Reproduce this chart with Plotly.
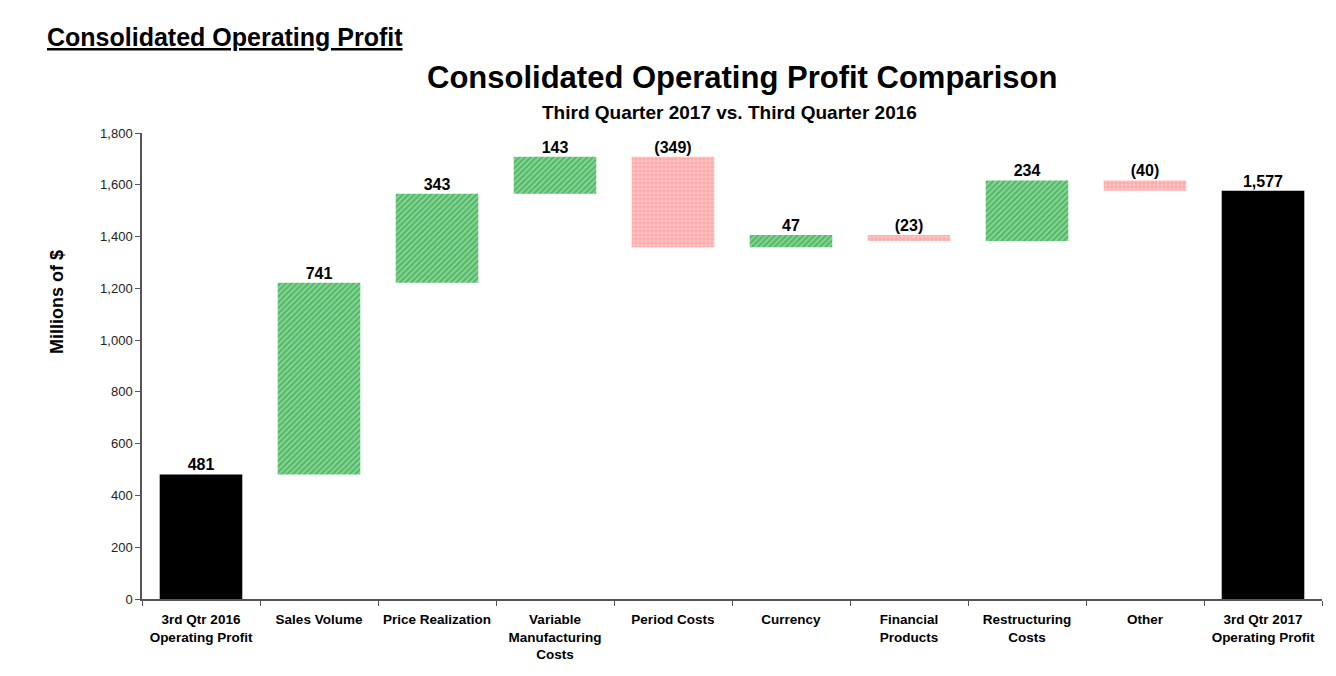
import plotly.graph_objects as go

categories = ["3rd Qtr 2016<br>Operating Profit", "Sales Volume", "Price Realization",
              "Variable<br>Manufacturing<br>Costs", "Period Costs", "Currency",
              "Financial<br>Products", "Restructuring<br>Costs", "Other",
              "3rd Qtr 2017<br>Operating Profit"]
values = [481, 741, 343, 143, -349, 47, -23, 234, -40, 1577]
measures = ["total", "relative", "relative", "relative", "relative", "relative",
            "relative", "relative", "relative", "total"]
value_labels = ["481", "741", "343", "143", "(349)", "47", "(23)", "234", "(40)", "1,577"]

# compute bases/heights from the data
bases, heights, kinds = [], [], []
running = 0
for v, m in zip(values, measures):
    if m == "total":
        bases.append(0); heights.append(v); kinds.append("total"); running = v
    else:
        if v >= 0:
            bases.append(running); heights.append(v); kinds.append("up")
        else:
            bases.append(running + v); heights.append(-v); kinds.append("down")
        running += v
tops = [b + h for b, h in zip(bases, heights)]

FONT = "Liberation Sans Narrow, Arial Narrow, Liberation Sans, Arial, sans-serif"

fig = go.Figure()

def add_group(kind, color_cfg):
    idx = [i for i, k in enumerate(kinds) if k == kind]
    fig.add_trace(go.Bar(
        x=[categories[i] for i in idx],
        y=[heights[i] for i in idx],
        base=[bases[i] for i in idx],
        width=0.7,
        marker=color_cfg,
        showlegend=False,
        hoverinfo="skip",
    ))

add_group("total", dict(color="black", line=dict(width=0)))
add_group("up", dict(color="#7fd08a", line=dict(width=0),
                     pattern=dict(shape="/", fgcolor="#1c963a", bgcolor="#8cd898",
                                  size=4, solidity=0.55, fillmode="overlay")))
add_group("down", dict(color="#ffc0c0", line=dict(width=0),
                       pattern=dict(shape="+", fgcolor="#ff7f7f", bgcolor="#ffc6c6",
                                    size=4, solidity=0.45, fillmode="overlay")))

fig.add_trace(go.Scatter(
    x=categories, y=tops, mode="text", text=["<b>%s</b>" % t for t in value_labels],
    textposition="top center",
    textfont=dict(family=FONT, size=16, color="black"),
    showlegend=False, hoverinfo="skip", cliponaxis=False,
))

W, H = 1320, 660
L, T, R, B = 134, 125, 6, 69
pw, ph = W - L - R, H - T - B

def px(x):  # page pixel x -> paper
    return (x - 8 - L) / pw

def py(y):  # page pixel y -> paper
    return (H - B - (y - 8)) / ph

fig.update_layout(
    width=W, height=H,
    margin=dict(l=L, r=R, t=T, b=B),
    paper_bgcolor="white", plot_bgcolor="white",
    barmode="overlay",
    font=dict(family=FONT, color="black"),
    xaxis=dict(
        type="category", categoryorder="array", categoryarray=categories,
        showline=True, linecolor="#555", linewidth=1.5,
        ticks="outside", tickson="boundaries", ticklen=5, tickcolor="#555",
        tickfont=dict(family=FONT, size=13.5, color="black"),
        tickprefix="<b>", ticksuffix="</b>",
        ticklabelstandoff=7,
        showgrid=False,
    ),
    yaxis=dict(
        range=[0, 1800], dtick=200, tickformat=",",
        showline=True, linecolor="#555", linewidth=1.5,
        ticks="outside", ticklen=5, tickcolor="#555",
        tickfont=dict(family=FONT, size=13, color="#222"),
        showgrid=False, zeroline=False,
    ),
    annotations=[
        dict(text="<b><u>Consolidated Operating Profit</u></b>", xref="paper", yref="paper",
             x=px(45), y=py(37), xanchor="left", yanchor="middle",
             showarrow=False, font=dict(family=FONT, size=25, color="black")),
        dict(text="<b>Consolidated Operating Profit Comparison</b>", xref="paper", yref="paper",
             x=px(742), y=py(77), xanchor="center", yanchor="middle",
             showarrow=False, font=dict(family=FONT, size=31, color="black")),
        dict(text="<b>Third Quarter 2017 vs. Third Quarter 2016</b>", xref="paper", yref="paper",
             x=px(729), y=py(112), xanchor="center", yanchor="middle",
             showarrow=False, font=dict(family=FONT, size=19, color="black")),
        dict(text="<b>Millions of $</b>", xref="paper", yref="paper",
             x=px(57), y=py(302), xanchor="center", yanchor="middle",
             textangle=-90, showarrow=False, font=dict(family=FONT, size=18, color="black")),
    ],
)

fig.write_html("out.html")
